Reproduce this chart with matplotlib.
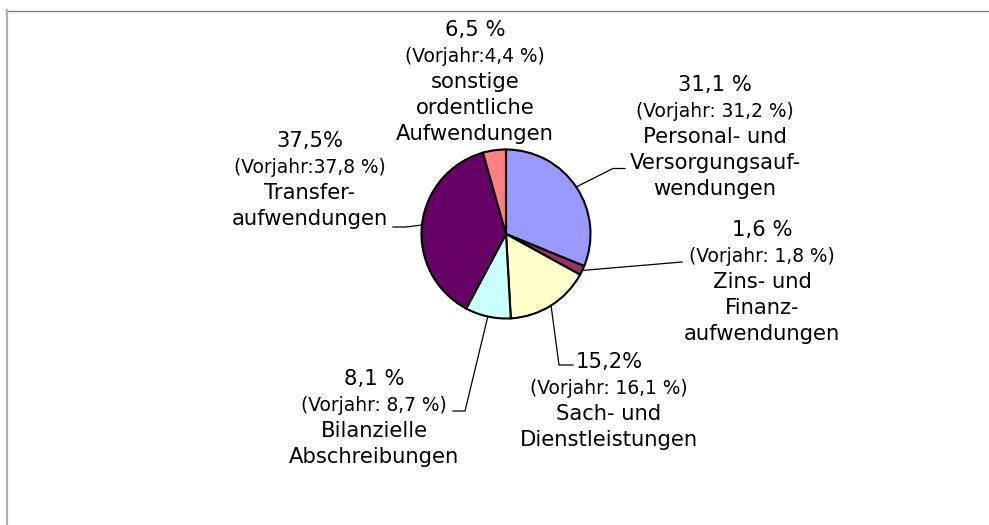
import numpy as np
import matplotlib
matplotlib.use("Agg")
import matplotlib.pyplot as plt
from matplotlib.lines import Line2D

# ---- data ----
categories = ["Personal- und Versorgungsaufwendungen", "Zins- und Finanzaufwendungen",
              "Sach- und Dienstleistungen", "Bilanzielle Abschreibungen",
              "Transferaufwendungen", "sonstige ordentliche Aufwendungen"]
share_current = [31.1, 1.6, 15.2, 8.1, 37.5, 6.5]
share_prior = [31.2, 1.8, 16.1, 8.7, 37.8, 4.4]
current_labels = ["31,1 %", "1,6 %", "15,2%", "8,1 %", "37,5%", "6,5 %"]
prior_labels = ["(Vorjahr: 31,2 %)", "(Vorjahr: 1,8 %)", "(Vorjahr: 16,1 %)",
                "(Vorjahr: 8,7 %)", "(Vorjahr:37,8 %)", "(Vorjahr:4,4 %)"]
name_lines = [["Personal- und", "Versorgungsauf-", "wendungen"],
              ["Zins- und", "Finanz-", "aufwendungen"],
              ["Sach- und", "Dienstleistungen"],
              ["Bilanzielle", "Abschreibungen"],
              ["Transfer-", "aufwendungen"],
              ["sonstige", "ordentliche", "Aufwendungen"]]
colors = ["#9999FF", "#993366", "#FFFFCC", "#CCFFFF", "#660066", "#FF8080"]

# ---- layout (pixel coordinates, y from top) ----
W, H = 989, 525
center = (506, 234)
radius = 84.5
label_pos = [(715, 90.7), (762, 236), (609, 368.3), (374, 385), (310, 146.7), (475, 36)]
line_step = 26
leader_routes = [[(613, 168.5), (625, 168.5)],
                 [(682, 262)],
                 [(559, 365), (573, 365)],
                 [(465, 411), (453, 411)],
                 [(406, 227), (393, 227)],
                 []]

fig = plt.figure(figsize=(W / 100, H / 100), dpi=100)
fig.patch.set_facecolor("white")
ax = fig.add_axes([0, 0, 1, 1])

wedges, _ = ax.pie(share_prior, colors=colors, startangle=-90, counterclock=True,
                   center=center, radius=radius,
                   wedgeprops=dict(edgecolor="black", linewidth=1.5))
ax.set_xlim(0, W)
ax.set_ylim(H, 0)
ax.set_aspect("auto")
ax.axis("off")

# frame lines
ax.add_line(Line2D([6, W], [10.5, 10.5], color="#808080", lw=1.0))
ax.add_line(Line2D([7, 7], [10, H], color="#b0b0b0", lw=1.6))

# labels
for i, w in enumerate(wedges):
    cx, by = label_pos[i]
    lines = [(current_labels[i], 15.2), (prior_labels[i], 13.4)] + [(t, 15.2) for t in name_lines[i]]
    for k, (t, fs) in enumerate(lines):
        ax.text(cx, by + k * line_step, t, fontsize=fs, ha="center", va="baseline",
                color="black", family="DejaVu Sans")
    if leader_routes[i]:
        mid = np.deg2rad((w.theta1 + w.theta2) / 2)
        sx = center[0] + radius * np.cos(mid)
        sy = center[1] + radius * np.sin(mid)
        xs = [sx] + [p[0] for p in leader_routes[i]]
        ys = [sy] + [p[1] for p in leader_routes[i]]
        ax.add_line(Line2D(xs, ys, color="black", lw=0.9))

fig.savefig("out.png", dpi=100, facecolor="white")
